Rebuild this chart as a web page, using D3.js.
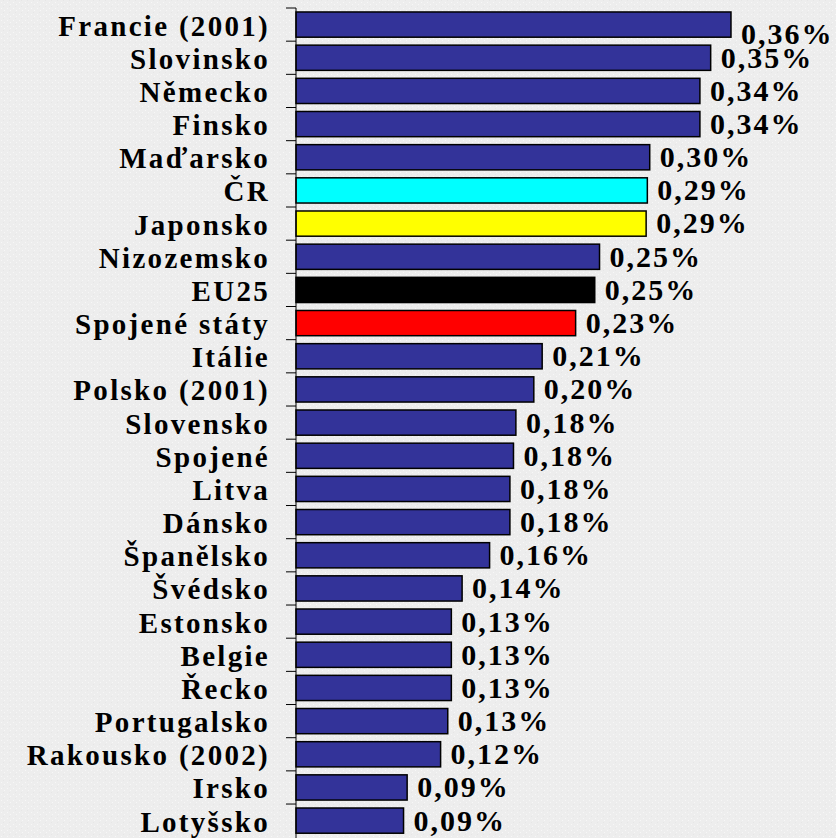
<!DOCTYPE html>
<html>
<head>
<meta charset="utf-8">
<script src="https://cdn.jsdelivr.net/npm/d3@7"></script>
<style>
  body { margin: 0; background: #eeeeee; }
  svg { display: block; }
  .cat { font-family: "Liberation Serif", "Times New Roman", serif; font-weight: bold; font-size: 29px; letter-spacing: 2.3px; fill: #000; }
  .val { font-family: "Liberation Serif", "Times New Roman", serif; font-weight: bold; font-size: 30px; letter-spacing: 2px; fill: #000; }
</style>
</head>
<body>
<div id="chart"></div>
<script>
// countries from top to bottom
const countries = ["Francie (2001)", "Slovinsko", "Německo", "Finsko", "Maďarsko", "ČR", "Japonsko",
  "Nizozemsko", "EU25", "Spojené státy", "Itálie", "Polsko (2001)", "Slovensko", "Spojené",
  "Litva", "Dánsko", "Španělsko", "Švédsko", "Estonsko", "Belgie", "Řecko", "Portugalsko",
  "Rakousko (2002)", "Irsko", "Lotyšsko"];

// share in %
const values = [0.364, 0.347, 0.338, 0.338, 0.296, 0.294, 0.293,
  0.254, 0.250, 0.234, 0.206, 0.199, 0.184, 0.182,
  0.179, 0.179, 0.162, 0.139, 0.130, 0.130, 0.130, 0.127,
  0.121, 0.093, 0.090];

// the few highlighted bars, the rest are blue
const highlight = {"ČR": "#00ffff", "Japonsko": "#ffff00", "EU25": "#000000", "Spojené státy": "#ff0000"};
const barColor = "#333399";

const width = 836, height = 838;
const axisX = 296;

const svg = d3.select("#chart").append("svg")
    .attr("width", width)
    .attr("height", height);

// light grey slide background with a faint speckle
let defs = svg.append("defs");
let pat = defs.append("pattern")
    .attr("id", "speckle")
    .attr("width", 6).attr("height", 6)
    .attr("patternUnits", "userSpaceOnUse");
pat.append("rect").attr("width", 6).attr("height", 6).attr("fill", "#ededed");
pat.append("rect").attr("x", 1).attr("y", 2).attr("width", 1).attr("height", 1).attr("fill", "#f7f7f7");
pat.append("rect").attr("x", 4).attr("y", 4).attr("width", 1).attr("height", 1).attr("fill", "#f7f7f7");
pat.append("rect").attr("x", 3).attr("y", 0).attr("width", 1).attr("height", 1).attr("fill", "#e6e6e6");

svg.append("rect")
    .attr("width", width)
    .attr("height", height)
    .attr("fill", "url(#speckle)");

const x = d3.scaleLinear()
    .domain([0, 0.4])
    .range([axisX, axisX + 478]);

const y = d3.scaleBand()
    .domain(countries)
    .range([8, 837.2])
    .paddingInner(0.24)
    .paddingOuter(0.12);

const data = countries.map((c, i) => ({name: c, value: values[i]}));
const step = y.step();
const off = y.paddingOuter() * step;

// bars
svg.append("g").attr("id", "bars")
    .selectAll("rect")
    .data(data)
    .enter()
    .append("rect")
    .attr("x", x(0))
    .attr("y", d => y(d.name))
    .attr("width", d => x(d.value) - x(0))
    .attr("height", y.bandwidth())
    .attr("fill", d => highlight[d.name] || barColor)
    .attr("stroke", "#000")
    .attr("stroke-width", 1.5);

// axis line and ticks between categories
let axis = svg.append("g").attr("id", "axis");
axis.append("line")
    .attr("x1", axisX).attr("x2", axisX)
    .attr("y1", y.range()[0]).attr("y2", height)
    .attr("stroke", "#000")
    .attr("stroke-width", 1);
axis.selectAll("line.tick")
    .data(countries)
    .enter()
    .append("line")
    .attr("class", "tick")
    .attr("x1", axisX - 10).attr("x2", axisX)
    .attr("y1", d => y(d) - off)
    .attr("y2", d => y(d) - off)
    .attr("stroke", "#000")
    .attr("stroke-width", 1);

// category labels
svg.append("g").attr("id", "cat_labels")
    .selectAll("text")
    .data(data)
    .enter()
    .append("text")
    .attr("class", "cat")
    .attr("x", 270)
    .attr("y", d => y(d.name) + y.bandwidth() / 2)
    .attr("dy", "0.38em")
    .attr("text-anchor", "end")
    .text(d => d.name);

// value labels, the top one sits lower (overlapping the next) as in the original
svg.append("g").attr("id", "val_labels")
    .selectAll("text")
    .data(data)
    .enter()
    .append("text")
    .attr("class", "val")
    .attr("x", d => x(d.value) + 10)
    .attr("y", (d, i) => y(d.name) + y.bandwidth() / 2 + (i === 0 ? 10 : 0))
    .attr("dy", "0.33em")
    .text(d => d3.format(".2f")(d.value).replace(".", ",") + "%");
</script>
</body>
</html>
